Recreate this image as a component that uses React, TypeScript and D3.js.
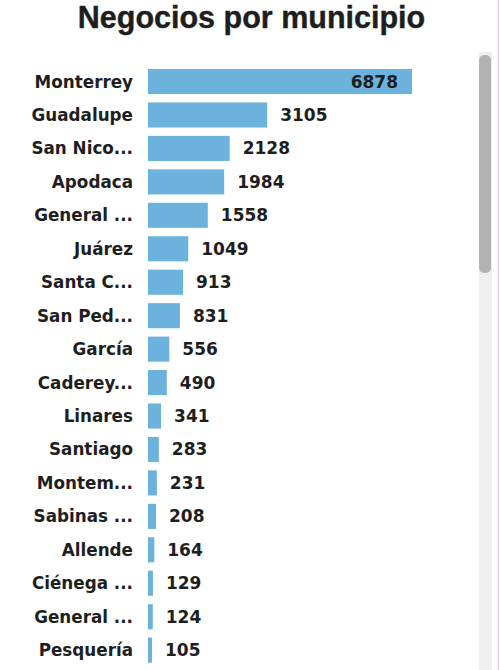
import React from "react";
import * as d3 from "d3";

const municipios = [
  "Monterrey", "Guadalupe", "San Nico...", "Apodaca", "General ...", "Juárez",
  "Santa C...", "San Ped...", "García", "Caderey...", "Linares", "Santiago",
  "Montem...", "Sabinas ...", "Allende", "Ciénega ...", "General ...", "Pesquería",
];
const negocios = [6878, 3105, 2128, 1984, 1558, 1049, 913, 831, 556, 490, 341, 283, 231, 208, 164, 129, 124, 105];
const title = "Negocios por municipio";

const W = 500;
const H = 670;

export default function App() {
  const ids = municipios.map((_, i) => String(i));
  const x = d3.scaleLinear().domain([0, d3.max(negocios) as number]).range([148, 412]);
  const y = d3.scaleBand<string>().domain(ids).range([64.8, 666.9]).paddingInner(0.25).paddingOuter(0.125);
  const font = "'DejaVu Sans', Verdana, sans-serif";
  return (
    <div style={{ position: "absolute", left: 0, top: 0, width: W, height: H, background: "#fff" }}>
      <svg width={W} height={H} style={{ display: "block" }}>
        <rect x={0} y={0} width={W} height={H} fill="#fff" />
        <text x={251.5} y={28} textAnchor="middle" fontFamily="'Liberation Sans', Arial, sans-serif" fontWeight="bold" fontSize={30.5} fill="#1e1e1e" stroke="#1e1e1e" strokeWidth={0.4}>{title}</text>
        {negocios.map((v, i) => {
          const yy = y(String(i)) as number;
          const bw = y.bandwidth();
          const cy = yy + bw / 2;
          const inside = x(v) > 350;
          return (
            <g key={i}>
              <text x={133} y={cy + 6} textAnchor="end" fontFamily={font} fontWeight="bold" fontSize={16.8} fill="#1e1e1e">{municipios[i]}</text>
              <rect x={x(0)} y={yy} width={Math.max(1, x(v) - x(0))} height={bw} fill="#6bb3dc" />
              <text x={inside ? x(v) - 14 : x(v) + 13} y={cy + 6} textAnchor={inside ? "end" : "start"} fontFamily={font} fontWeight="bold" fontSize={17} fill="#1e1e1e">{v}</text>
            </g>
          );
        })}
        <rect x={479} y={52} width={13} height={H - 52} fill="#efefef" />
        <rect x={479} y={55} width={12} height={218} rx={5} fill="#b3b3b3" />
        <rect x={498} y={0} width={1} height={H} fill="#f2c6d6" />
      </svg>
    </div>
  );
}
